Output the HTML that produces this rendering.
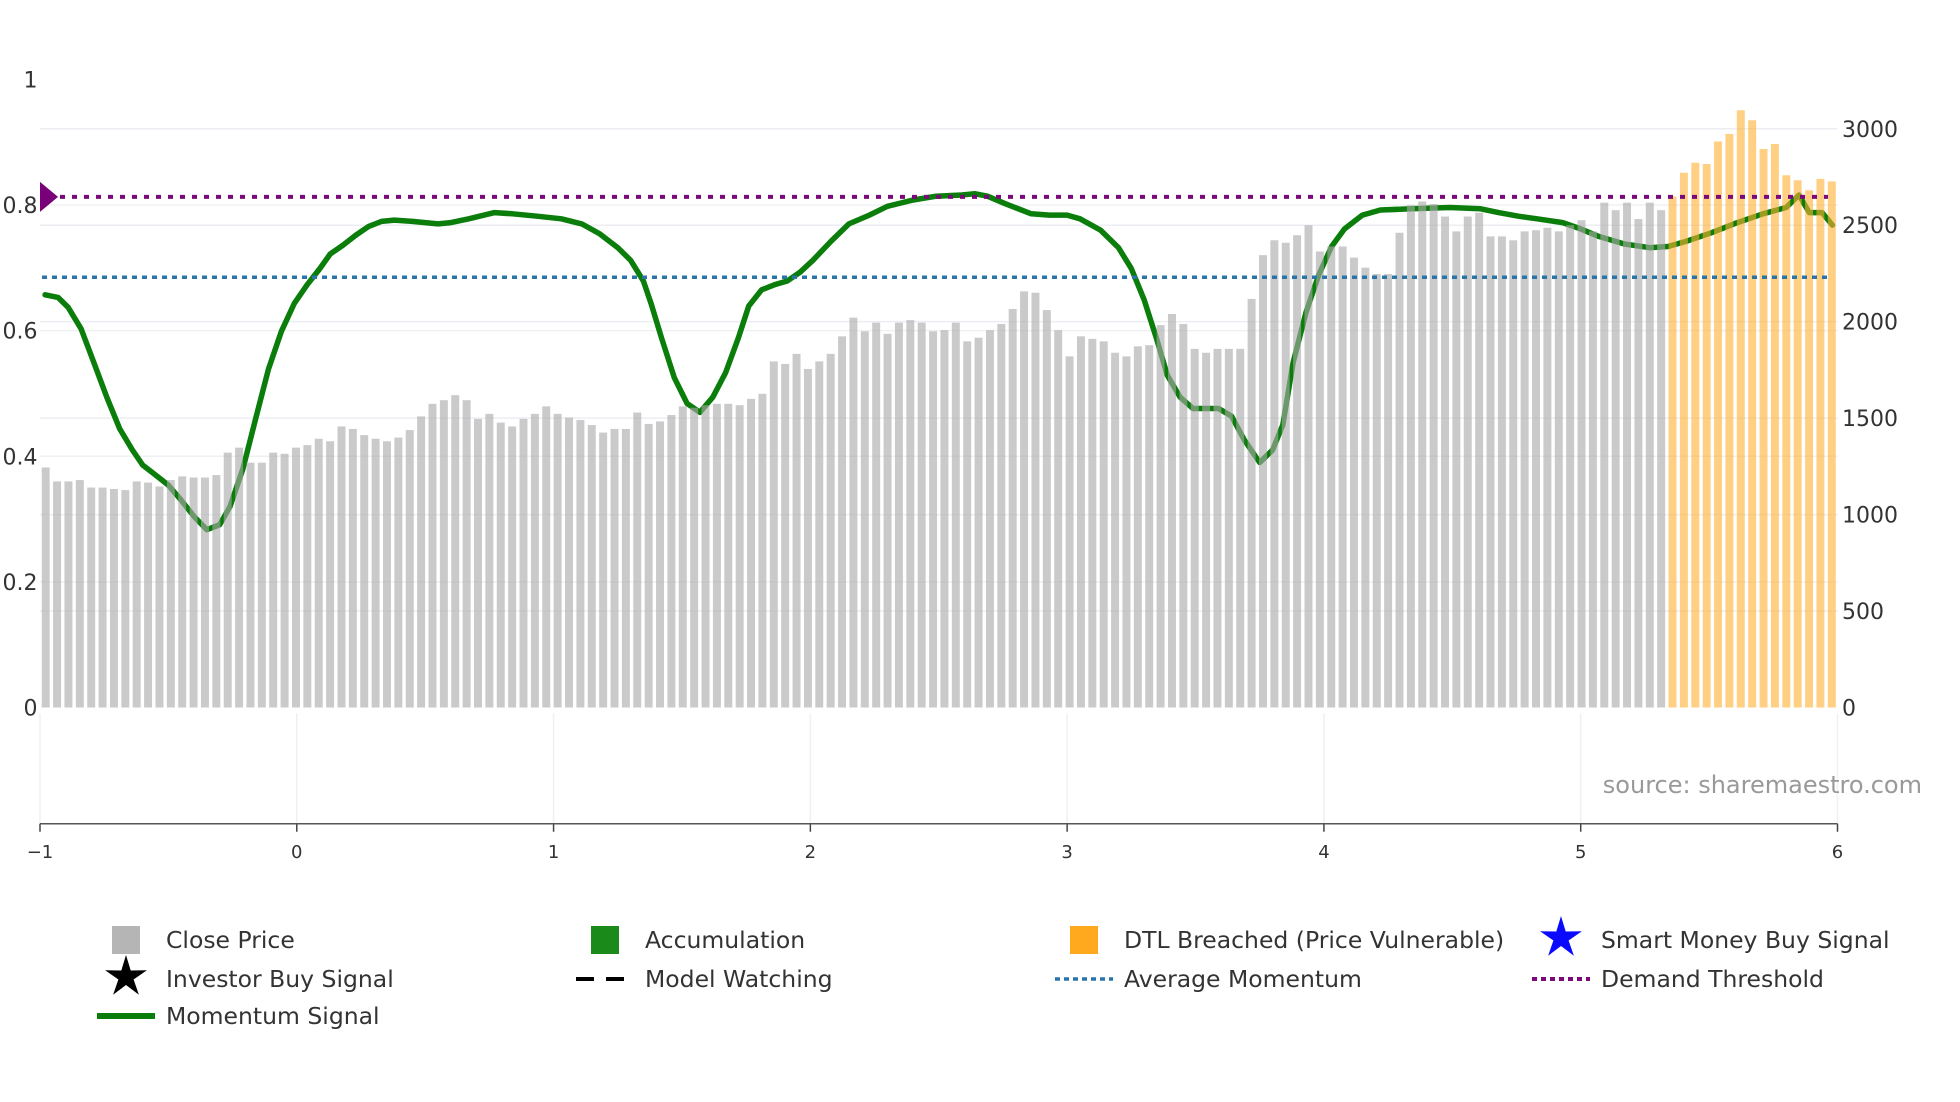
<!DOCTYPE html>
<html><head><meta charset="utf-8"><style>
html,body{margin:0;padding:0;background:#fff;}
svg{display:block;font-family:"DejaVu Sans","Liberation Sans",sans-serif;}
</style></head><body>
<svg id="chart" width="1960" height="1102" viewBox="0 0 1960 1102">
<g id="grid"></g>
<g id="lines"></g>
<g id="bars"></g>
<g id="refs"></g>
<g id="axes"></g>
<text x="1922" y="793" text-anchor="end" font-size="24" fill="#999">source: sharemaestro.com</text>
<g id="legend"></g>
</svg>
<script>
const greyPrices=[1244,1172,1172,1179,1140,1140,1133,1127,1172,1166,1146,1179,1198,1192,1192,1205,1321,1347,1269,1269,1321,1315,1347,1360,1393,1380,1457,1444,1412,1393,1380,1399,1438,1509,1574,1593,1619,1593,1496,1522,1477,1457,1496,1522,1561,1522,1503,1490,1464,1425,1444,1444,1529,1470,1483,1516,1561,1554,1567,1574,1574,1567,1600,1626,1794,1781,1833,1755,1794,1833,1924,2021,1950,1995,1937,1995,2008,1995,1950,1956,1995,1898,1917,1956,1988,2066,2157,2150,2060,1956,1820,1924,1911,1898,1839,1820,1872,1878,1982,2040,1988,1859,1839,1859,1859,1859,2118,2345,2422,2409,2448,2500,2364,2390,2390,2332,2280,2247,2247,2461,2604,2623,2610,2545,2468,2545,2565,2442,2442,2422,2468,2474,2487,2468,2500,2526,2468,2617,2578,2617,2532,2617,2578];
const orangePrices=[2649,2772,2824,2817,2934,2973,3096,3044,2895,2921,2759,2733,2681,2740,2727];
const momX=[-0.98,-0.93,-0.89,-0.84,-0.79,-0.74,-0.69,-0.64,-0.60,-0.55,-0.50,-0.45,-0.40,-0.35,-0.30,-0.26,-0.21,-0.16,-0.11,-0.06,-0.01,0.04,0.09,0.13,0.18,0.23,0.28,0.33,0.38,0.45,0.55,0.60,0.67,0.77,0.84,0.94,1.03,1.11,1.18,1.25,1.30,1.35,1.38,1.42,1.47,1.52,1.57,1.62,1.67,1.72,1.76,1.81,1.86,1.91,1.96,2.01,2.08,2.15,2.23,2.30,2.40,2.49,2.59,2.64,2.69,2.76,2.86,2.93,3.00,3.05,3.13,3.20,3.25,3.30,3.35,3.39,3.44,3.49,3.54,3.59,3.64,3.69,3.75,3.80,3.84,3.88,3.93,3.98,4.03,4.08,4.15,4.22,4.34,4.49,4.61,4.68,4.76,4.83,4.93,5.00,5.07,5.17,5.27,5.34,5.41,5.51,5.61,5.71,5.80,5.85,5.89,5.94,5.98];
const momY=[0.657,0.653,0.637,0.603,0.549,0.494,0.444,0.410,0.386,0.370,0.354,0.330,0.304,0.283,0.291,0.320,0.380,0.460,0.539,0.599,0.643,0.673,0.699,0.722,0.736,0.752,0.766,0.774,0.776,0.774,0.770,0.772,0.778,0.788,0.786,0.782,0.778,0.770,0.754,0.732,0.712,0.679,0.643,0.589,0.525,0.484,0.470,0.494,0.533,0.589,0.639,0.665,0.673,0.679,0.693,0.712,0.742,0.770,0.784,0.798,0.808,0.814,0.816,0.818,0.814,0.802,0.786,0.784,0.784,0.778,0.760,0.732,0.699,0.649,0.585,0.529,0.494,0.476,0.476,0.476,0.464,0.426,0.390,0.410,0.450,0.549,0.629,0.689,0.734,0.762,0.784,0.792,0.794,0.796,0.794,0.788,0.782,0.778,0.772,0.762,0.750,0.738,0.732,0.734,0.742,0.756,0.772,0.786,0.796,0.816,0.788,0.788,0.768];
const demandThreshold=0.813;
const avgMomentum=0.685;
const leftTicks=[0,0.2,0.4,0.6,0.8,1];
const leftTickLabels=["0","0.2","0.4","0.6","0.8","1"];
const rightTicks=[0,500,1000,1500,2000,2500,3000];
const xTicks=[-1,0,1,2,3,4,5,6];
const xTickLabels=["\u22121","0","1","2","3","4","5","6"];

const NS="http://www.w3.org/2000/svg";
const PL=40,PR=1837.5,Y0=707.5,Y1=79.4,R3=128.75,AXY=823.75;
const xS=v=>PL+(v+1)/7*(PR-PL);
const yL=v=>Y0-v*(Y0-Y1);
const yR=v=>Y0-v/3000*(Y0-R3);
function mk(tag,attrs,parent){const e=document.createElementNS(NS,tag);for(const k in attrs)e.setAttribute(k,attrs[k]);parent.appendChild(e);return e;}
const grid=document.getElementById('grid'),lines=document.getElementById('lines'),bars=document.getElementById('bars'),refs=document.getElementById('refs'),axes=document.getElementById('axes'),legend=document.getElementById('legend');

leftTicks.forEach((t,i)=>{
  if(t>0&&t<1){const g=mk('line',{x1:PL,x2:PR,y1:yL(t),y2:yL(t),stroke:'#eef0f4','stroke-width':1.5},grid);
  }
  const tx=mk('text',{x:37.5,y:yL(t)+8,'text-anchor':'end','font-size':22,fill:'#333'},axes);
  tx.textContent=leftTickLabels[i];
  
});
rightTicks.forEach(t=>{
  if(t>0){const g=mk('line',{x1:PL,x2:PR,y1:yR(t),y2:yR(t),stroke:'#eceef3','stroke-width':1.5},grid);
  }
  const tx=mk('text',{x:1842,y:yR(t)+8,'font-size':22,fill:'#333'},axes);
  tx.textContent=String(t);
  
});
xTicks.forEach((t,i)=>{
  const g=mk('line',{x1:xS(t),x2:xS(t),y1:Y0+6,y2:AXY,stroke:'#eef0f6','stroke-width':1.5},grid);
  
  const tk=mk('line',{x1:xS(t),x2:xS(t),y1:AXY,y2:AXY+8,stroke:'#444','stroke-width':1.5},axes);
  
  const tx=mk('text',{x:xS(t),y:AXY+34,'text-anchor':'middle','font-size':18,fill:'#333'},axes);
  tx.textContent=xTickLabels[i];
  
});
const ax=mk('line',{x1:PL,x2:PR,y1:AXY,y2:AXY,stroke:'#555','stroke-width':1.5},axes);


let d='';momX.forEach((x,i)=>{d+=(i?'L':'M')+xS(x).toFixed(1)+','+yL(momY[i]).toFixed(1);});
const ml=mk('path',{d:d,fill:'none',stroke:'#0a7d0a','stroke-width':5.5,'stroke-linejoin':'round','stroke-linecap':'round'},lines);


const N=greyPrices.length+orangePrices.length;
const pitch=(PR-PL)/N,bw=pitch*0.7;
greyPrices.concat(orangePrices).forEach((p,i)=>{
  const isO=i>=greyPrices.length;
  const cx=PL+(i+0.5)*pitch;
  const r=mk('rect',{x:(cx-bw/2).toFixed(2),y:yR(p).toFixed(2),width:bw.toFixed(2),height:(Y0-yR(p)).toFixed(2),fill:isO?'#ffb030':'#a9a9a9','fill-opacity':isO?0.6:0.62},bars);
  
  
});

const dl=mk('line',{x1:PL+8,x2:1828,y1:yL(demandThreshold),y2:yL(demandThreshold),stroke:'#7a0a7a','stroke-width':4,'stroke-dasharray':'5,7'},refs);

const al=mk('line',{x1:PL+2,x2:1828,y1:yL(avgMomentum),y2:yL(avgMomentum),stroke:'#2a74a8','stroke-width':3.5,'stroke-dasharray':'5,5'},refs);

const dy=yL(demandThreshold);
const dm=mk('path',{d:`M${PL},${dy-15}L${PL+18},${dy}L${PL},${dy+15}Z`,fill:'#780078'},refs);


function lt(x,y,s,name){const t=mk('text',{x:x,y:y+8,'font-size':23.5,fill:'#333'},legend);t.textContent=s;}
function sq(cx,cy,c,name){const r=mk('rect',{x:cx-14,y:cy-14,width:28,height:28,fill:c},legend);}
function star(cx,cy,c,name){let p='';for(let k=0;k<10;k++){const a=-Math.PI/2+k*Math.PI/5,rr=k%2?8:22;p+=(k?'L':'M')+(cx+rr*Math.cos(a)).toFixed(1)+','+(cy+rr*Math.sin(a)).toFixed(1);}const s=mk('path',{d:p+'Z',fill:c},legend);}
function ln(cx,cy,c,dash,w,name){const l=mk('line',{x1:cx-29,x2:cx+29,y1:cy,y2:cy,stroke:c,'stroke-width':w,'stroke-dasharray':dash},legend);}
const R1=940,R2=979,R3r=1016;
sq(126,R1,'#b5b5b5','close-price-legend-icon');lt(166,R1,'Close Price','close-price-legend-label');
sq(605,R1,'#1a8a1a','accumulation-legend-icon');lt(645,R1,'Accumulation','accumulation-legend-label');
sq(1084,R1,'#ffa91f','dtl-breached-legend-icon');lt(1124,R1,'DTL Breached (Price Vulnerable)','dtl-breached-legend-label');
star(1561,R1-2,'#0a0aff','smart-money-legend-icon');lt(1601,R1,'Smart Money Buy Signal','smart-money-legend-label');
star(126,R2-2,'#000','investor-buy-legend-icon');lt(166,R2,'Investor Buy Signal','investor-buy-legend-label');
ln(605,R2,'#000','18,12',4,'model-watching-legend-icon');lt(645,R2,'Model Watching','model-watching-legend-label');
ln(1084,R2,'#2a74a8','5,4',3.5,'average-momentum-legend-icon');lt(1124,R2,'Average Momentum','average-momentum-legend-label');
ln(1561,R2,'#7a0a7a','5,4',4,'demand-threshold-legend-icon');lt(1601,R2,'Demand Threshold','demand-threshold-legend-label');
ln(126,R3r,'#0a7d0a','none',6,'momentum-signal-legend-icon');lt(166,R3r,'Momentum Signal','momentum-signal-legend-label');
</script>
</body></html>
